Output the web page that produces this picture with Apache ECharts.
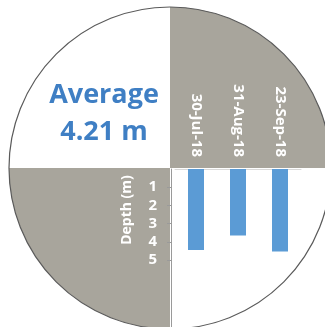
<!DOCTYPE html>
<html>
<head>
<meta charset="utf-8">
<script src="https://cdn.jsdelivr.net/npm/echarts@6/dist/echarts.min.js"></script>
<style>
  html, body { margin: 0; padding: 0; background: #fff; }
  #chart { width: 325px; height: 327px; }
</style>
</head>
<body>
<div id="chart"></div>
<script>
const dates = ['30-Jul-18', '31-Aug-18', '23-Sep-18']
const depths = [4.45, 3.65, 4.53]
const depthTicks = [1, 2, 3, 4, 5]
const averageText = ['Average', '4.21 m']

const cx = 170, cy = 168, r = 161
const grey = '#a8a59c'
const font = '"Open Sans", sans-serif'

const myChart = echarts.init(document.getElementById('chart'))

myChart.setOption({
  animation: false,
  grid: { left: 175, top: 169, width: 126, height: 164, outerBoundsMode: 'none' },
  graphic: [
    // background disc with the two grey quarters
    { type: 'circle', z: -5, shape: { cx: cx, cy: cy, r: r }, style: { fill: '#fff' } },
    { type: 'sector', z: -4, shape: { cx: cx, cy: cy, r: r, startAngle: -Math.PI / 2, endAngle: 0 }, style: { fill: grey } },
    { type: 'sector', z: -4, shape: { cx: cx, cy: cy, r: r, startAngle: Math.PI / 2, endAngle: Math.PI }, style: { fill: grey } },
    { type: 'circle', z: 50, shape: { cx: cx, cy: cy, r: r }, style: { fill: null, stroke: '#5a5a5a', lineWidth: 1.2 } },
    {
      type: 'text', z: 10,
      x: 104, y: 114,
      style: {
        text: averageText.join('\n'), fill: '#3f7fc4', font: 'bold 27px ' + font,
        align: 'center', verticalAlign: 'middle', lineHeight: 37
      }
    },
    {
      type: 'text', z: 10, x: 127, y: 210, rotation: Math.PI / 2,
      style: { text: 'Depth (m)', fill: '#fff', font: 'bold 14px ' + font, align: 'center', verticalAlign: 'middle' }
    }
  ],
  xAxis: {
    type: 'category',
    position: 'top',
    data: dates,
    axisLine: { show: true, lineStyle: { color: '#d9d9d9' } },
    axisTick: { show: false },
    axisLabel: { rotate: -90, margin: 12, color: '#fff', fontWeight: 'bold', fontSize: 15, fontFamily: font }
  },
  yAxis: {
    type: 'value',
    inverse: true,
    min: 0,
    max: 9,
    offset: 4,
    splitLine: { show: false },
    axisLine: { show: true, lineStyle: { color: '#9a9a9a' } },
    axisTick: { show: true, length: 4, customValues: depthTicks, lineStyle: { color: '#9a9a9a' } },
    axisLabel: { customValues: depthTicks, margin: 14, color: '#fff', fontWeight: 'bold', fontSize: 15, fontFamily: font }
  },
  series: [
    {
      type: 'bar',
      data: depths,
      barWidth: 16,
      itemStyle: { color: '#5b9bd5' }
    }
  ]
})
</script>
</body>
</html>
